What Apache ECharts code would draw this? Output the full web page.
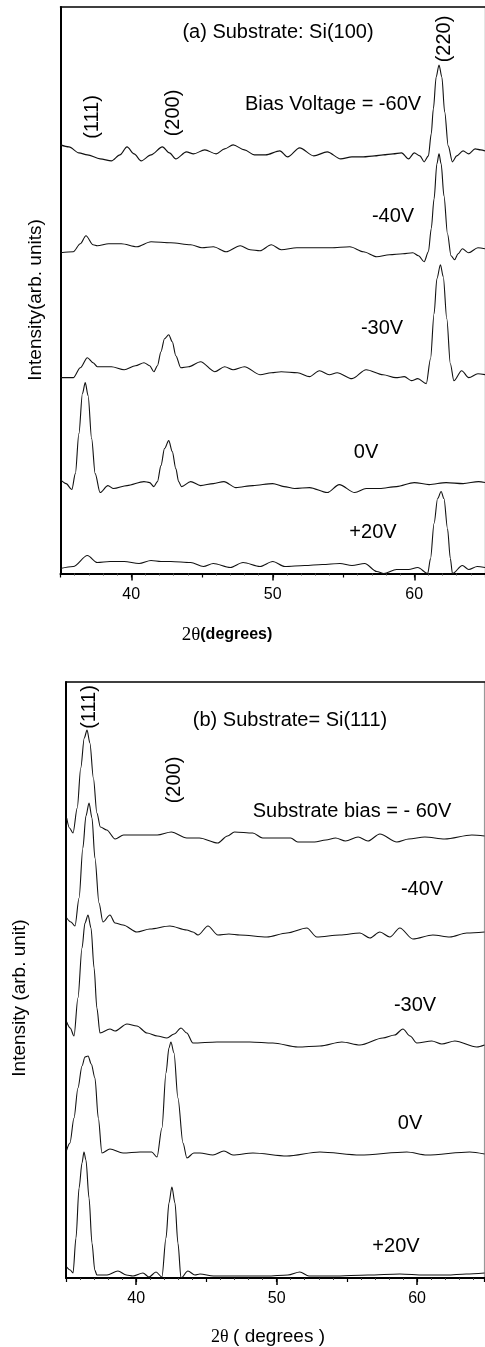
<!DOCTYPE html>
<html>
<head>
<meta charset="utf-8">
<script src="https://cdn.jsdelivr.net/npm/echarts@6.0.0/dist/echarts.min.js"></script>
<style>
html, body { margin: 0; padding: 0; background: #fff; }
#chart { width: 485px; height: 1347px; }
</style>
</head>
<body>
<div id="chart"></div>
<script>
// x tick labels (2θ, degrees)
const xTicks = [40, 50, 60]

// (a) Substrate: Si(100) -- [2θ, intensity (arb.)], curves already offset
const a_m60 = [[35.0,429],[35.6,427],[36.3,421],[36.9,419],[37.8,415],[38.6,413],[39.2,419],[39.7,427],[40.2,420],[40.7,413],[41.4,419],[42.2,427],[42.7,421],[43.15,415],[43.9,422],[44.4,420],[45.2,424],[46.0,420],[46.6,425],[47.2,429],[48.0,424],[48.7,419],[49.5,419],[50.5,423],[51.05,417],[51.9,426],[52.9,418],[53.85,422],[54.8,415],[55.6,417],[56.4,417],[57.2,418],[57.8,419],[58.5,420],[59.1,421],[59.6,415],[60.0,421],[60.4,418],[60.7,412],[61.0,418],[61.2,440],[61.35,465],[61.55,497],[61.75,509],[61.95,497],[62.15,462],[62.4,428],[62.7,412],[63.0,418],[63.45,423],[63.85,420],[64.3,425],[64.7,424],[65.0,423]]
const a_m40 = [[35.0,321],[35.9,322],[36.4,330],[36.8,338],[37.3,329],[37.6,328],[38.4,330],[39.3,330],[40.4,327],[41.4,332],[42.8,331],[44.2,329],[45.0,326],[45.8,327],[46.7,322],[47.7,328],[48.4,324],[49.1,323],[49.9,329],[50.6,324],[51.7,326],[52.9,326],[54.1,326],[55.45,327],[56.4,322],[57.35,317],[58.25,319],[59.2,320],[59.9,321],[60.3,318],[60.7,312],[61.0,322],[61.2,345],[61.4,375],[61.6,410],[61.75,420],[61.9,410],[62.1,378],[62.35,340],[62.6,318],[62.85,314],[63.1,320],[63.4,325],[63.85,321],[64.5,326],[65.0,325]]
const a_m30 = [[35.0,196],[35.9,196],[36.4,206],[36.9,216],[37.3,211],[37.6,207],[38.6,207],[39.5,204],[40.3,208],[40.9,211],[41.3,208],[41.6,202],[41.85,208],[42.1,222],[42.35,235],[42.65,239],[42.9,232],[43.15,218],[43.5,206],[44.05,207],[44.9,212],[45.9,202],[46.6,207],[47.2,204],[48.0,207],[49.1,199],[49.9,201],[50.6,202],[51.75,201],[52.6,197],[53.3,203],[54.0,199],[54.55,201],[55.6,195],[56.6,204],[57.8,199],[58.7,196],[59.3,197],[59.8,193],[60.25,195],[60.85,190],[61.15,215],[61.4,260],[61.6,295],[61.85,309],[62.05,297],[62.3,255],[62.55,210],[62.8,193],[63.35,203],[63.85,196],[64.5,200],[65.0,199]]
const a_0 = [[35.0,94],[35.4,90],[35.8,84],[36.05,100],[36.3,140],[36.55,180],[36.75,191],[36.95,178],[37.2,135],[37.45,100],[37.8,81],[38.35,88],[38.75,85],[39.7,88],[40.9,92],[41.3,91],[41.6,87],[41.85,92],[42.1,108],[42.35,125],[42.65,133],[42.9,122],[43.15,105],[43.35,92],[43.55,87],[44.2,92],[44.9,88],[45.8,90],[46.55,92],[47.4,86],[48.6,88],[50.0,90],[50.8,87],[51.55,85],[52.6,86],[53.85,81],[54.7,89],[55.8,81],[56.6,85],[57.55,85],[58.75,87],[60.0,91],[61.05,89],[62.25,91],[63.45,90],[64.55,92],[65.0,91]]
const a_p20 = [[35.0,5],[35.9,7],[36.9,18],[37.6,11],[38.5,12],[39.5,12],[40.55,10],[41.4,13],[42.1,12],[42.8,12],[44.2,11],[45.1,7],[45.8,10],[47.0,6],[47.9,11],[49.1,7],[50.0,12],[50.85,7],[52.25,8],[53.5,9],[54.75,10],[55.6,8],[56.5,10],[57.35,2],[57.85,0],[58.75,4],[59.6,4],[60.25,6],[60.95,0],[61.15,15],[61.4,50],[61.65,75],[61.9,82],[62.1,75],[62.35,45],[62.55,15],[62.7,0],[63.4,8],[63.85,4],[64.45,7],[65.0,6]]

// (b) Substrate= Si(111)
const b_m60 = [[35.05,460],[35.25,450],[35.5,445],[35.8,470],[36.05,510],[36.3,540],[36.5,548],[36.7,535],[36.95,500],[37.2,465],[37.45,451],[37.9,448],[38.5,439],[39.1,443],[40.3,443],[41.5,443],[42.5,446],[43.6,440],[44.5,440],[45.8,435],[46.5,442],[47.0,446],[48.3,445],[49.0,440],[50.2,440],[51.0,440],[51.5,436],[52.7,436],[53.5,438],[54.2,440],[54.9,437],[55.8,441],[56.5,437],[57.35,444],[58.56,436],[59.4,439],[60.55,441],[61.97,439],[63.9,443],[64.8,442]]
const b_m40 = [[35.05,360],[35.35,356],[35.64,352],[35.93,380],[36.2,430],[36.42,462],[36.64,475],[36.85,460],[37.06,420],[37.35,375],[37.63,356],[38.13,363],[38.49,355],[39.06,353],[40.05,346],[40.98,349],[42.4,352],[43.6,348],[44.04,346],[44.4,343],[45.11,352],[45.82,343],[46.6,344],[47.38,343],[49.31,341],[50.73,345],[52.15,350],[52.86,341],[54.5,343],[55.93,345],[56.64,340],[57.35,346],[58.06,341],[58.77,350],[59.7,339],[61.12,343],[62.33,341],[63.54,345],[64.8,346]]
const b_m30 = [[35.05,256],[35.3,250],[35.57,242],[35.85,280],[36.14,330],[36.35,355],[36.57,363],[36.78,350],[37.0,310],[37.2,270],[37.42,245],[38.13,249],[38.49,247],[39.34,254],[40.05,252],[40.77,245],[41.5,242],[42.19,240],[42.7,244],[43.19,250],[43.6,245],[44.04,235],[45.75,236],[48.1,236],[49.73,235],[51.51,231],[53.08,232],[54.64,236],[55.93,233],[57.56,240],[58.4,243],[58.99,249],[59.5,242],[59.98,235],[61.05,237],[61.76,234],[62.69,237],[64.25,231],[64.8,233]]
const b_0 = [[35.05,128],[35.28,135],[35.57,160],[35.85,190],[36.14,212],[36.35,221],[36.57,222],[36.8,214],[37.06,200],[37.3,160],[37.56,125],[38.13,129],[39.06,125],[40.27,126],[41.1,126],[41.48,121],[41.83,150],[42.12,205],[42.33,230],[42.47,236],[42.69,225],[42.97,180],[43.33,135],[43.61,120],[44.1,125],[44.54,125],[45.46,123],[46.25,127],[46.89,123],[48.31,125],[50.73,122],[53.08,126],[55.93,123],[59.27,126],[60.69,123],[63.75,126],[64.8,124]]
const b_p20 = [[35.05,11],[35.3,8],[35.5,5],[35.71,40],[35.93,90],[36.14,115],[36.28,126],[36.42,118],[36.64,80],[36.85,35],[37.05,8],[37.2,3],[37.92,3],[38.7,7],[39.3,3],[39.77,2],[40.48,5],[40.91,1],[41.41,6],[41.83,1],[42.12,40],[42.33,75],[42.54,91],[42.76,75],[42.97,35],[43.19,0],[43.68,7],[44.18,3],[44.54,4],[45.5,2],[46.89,2],[49.31,2],[50.8,3],[51.65,6],[52.3,2],[54.0,2],[56.5,3],[58.77,4],[60.5,3],[62.12,3],[63.5,4],[64.8,5]]

const seriesA = [['-60V', a_m60], ['-40V', a_m40], ['-30V', a_m30], ['0V', a_0], ['+20V', a_p20]]
const seriesB = [['-60V', b_m60], ['-40V', b_m40], ['-30V', b_m30], ['0V', b_0], ['+20V', b_p20]]

const sans = '"Liberation Sans", Arial, sans-serif'
const serif = '"Liberation Serif", "Times New Roman", serif'

let chart = echarts.init(document.getElementById('chart'))

function axesFor(g, max, yMax, rightColor) {
  let x = [
    {
      gridIndex: g, type: 'value', position: 'bottom', min: 35, max: max,
      axisLine: { onZero: false, lineStyle: { color: '#000', width: 2 } },
      axisTick: { customValues: xTicks, length: 7, lineStyle: { color: '#000', width: 1.5 } },
      axisLabel: { customValues: xTicks, margin: 13, fontSize: 16, color: '#000', fontFamily: sans },
      splitLine: { show: false },
    },
    {
      // 45 / 55 and 1-degree minor ticks
      gridIndex: g, type: 'value', position: 'bottom', min: 35, max: max, interval: 5,
      axisLine: { show: false, onZero: false },
      axisTick: { length: 4, lineStyle: { color: '#000', width: 1.2 } },
      minorTick: { show: true, splitNumber: 5, length: 2, lineStyle: { color: '#444', width: 1 } },
      axisLabel: { show: false },
      splitLine: { show: false },
    },
    {
      gridIndex: g, type: 'value', position: 'top', min: 35, max: max,
      axisLine: { onZero: false, lineStyle: { color: '#000', width: 1.5 } },
      axisTick: { show: false }, axisLabel: { show: false }, splitLine: { show: false },
    },
  ]
  let y = [
    {
      gridIndex: g, type: 'value', position: 'left', min: 0, max: yMax,
      axisLine: { show: true, onZero: false, lineStyle: { color: '#000', width: 2 } },
      axisTick: { show: false }, axisLabel: { show: false }, splitLine: { show: false },
    },
    {
      gridIndex: g, type: 'value', position: 'right', min: 0, max: yMax,
      axisLine: { show: true, onZero: false, lineStyle: { color: rightColor, width: 1.2 } },
      axisTick: { show: false }, axisLabel: { show: false }, splitLine: { show: false },
    },
  ]
  return { x, y }
}

let axA = axesFor(0, 65, 567, '#000')
let axB = axesFor(1, 64.8, 596, '#999')

function lines(list, xi, yi) {
  return list.map(([name, data]) => ({
    name: name,
    type: 'line',
    xAxisIndex: xi,
    yAxisIndex: yi,
    data: data,
    showSymbol: false,
    smooth: 0.3,
    smoothMonotone: 'x',
    lineStyle: { color: '#111', width: 1.1 },
    animation: false,
  }))
}

function txt(text, x, y, size, rot) {
  return {
    type: 'text', x: x, y: y, rotation: rot ? Math.PI / 2 : 0,
    style: { text: text, fill: '#000', fontSize: size, fontFamily: sans, align: 'center', verticalAlign: 'middle' },
  }
}

// x axis titles: serif 2θ followed by sans text
function xTitle(text, x, y, rich) {
  return {
    type: 'text', x: x, y: y,
    style: { text: text, align: 'center', verticalAlign: 'middle', rich: rich },
  }
}

chart.setOption({
  backgroundColor: '#fff',
  animation: false,
  grid: [
    { left: 60.5, top: 7, width: 429, height: 566.5 },
    { left: 66, top: 682, width: 418.5, height: 596 },
  ],
  xAxis: axA.x.concat(axB.x),
  yAxis: axA.y.concat(axB.y),
  series: lines(seriesA, 0, 0).concat(lines(seriesB, 3, 2)),
  graphic: [
    txt('(a) Substrate: Si(100)', 278, 32, 20),
    txt('Bias Voltage = -60V', 333, 104, 20),
    txt('(220)', 444, 39, 20, true),
    txt('(111)', 92, 117, 20, true),
    txt('(200)', 173, 113, 20, true),
    txt('-40V', 393, 216, 20),
    txt('-30V', 382, 328, 20),
    txt('0V', 366, 452, 20),
    txt('+20V', 373, 532, 20),
    txt('Intensity(arb. units)', 36, 300, 19, true),
    xTitle('{t|2θ}{b|(degrees)}', 227, 635, {
      t: { fontFamily: serif, fontSize: 19, fill: '#000' },
      b: { fontFamily: sans, fontSize: 16, fontWeight: 'bold', fill: '#000' },
    }),

    txt('(b) Substrate= Si(111)', 290, 720, 20),
    txt('(111)', 89, 707, 20, true),
    txt('(200)', 174, 780, 20, true),
    txt('Substrate bias = - 60V', 352, 811, 20),
    txt('-40V', 422, 889, 20),
    txt('-30V', 415, 1005, 20),
    txt('0V', 410, 1123, 20),
    txt('+20V', 396, 1246, 20),
    txt('Intensity (arb. unit)', 20, 998, 19, true),
    xTitle('{t|2θ }{b|( degrees )}', 268, 1337, {
      t: { fontFamily: serif, fontSize: 18, fill: '#000' },
      b: { fontFamily: sans, fontSize: 19, fill: '#000' },
    }),
  ],
})
</script>
</body>
</html>
